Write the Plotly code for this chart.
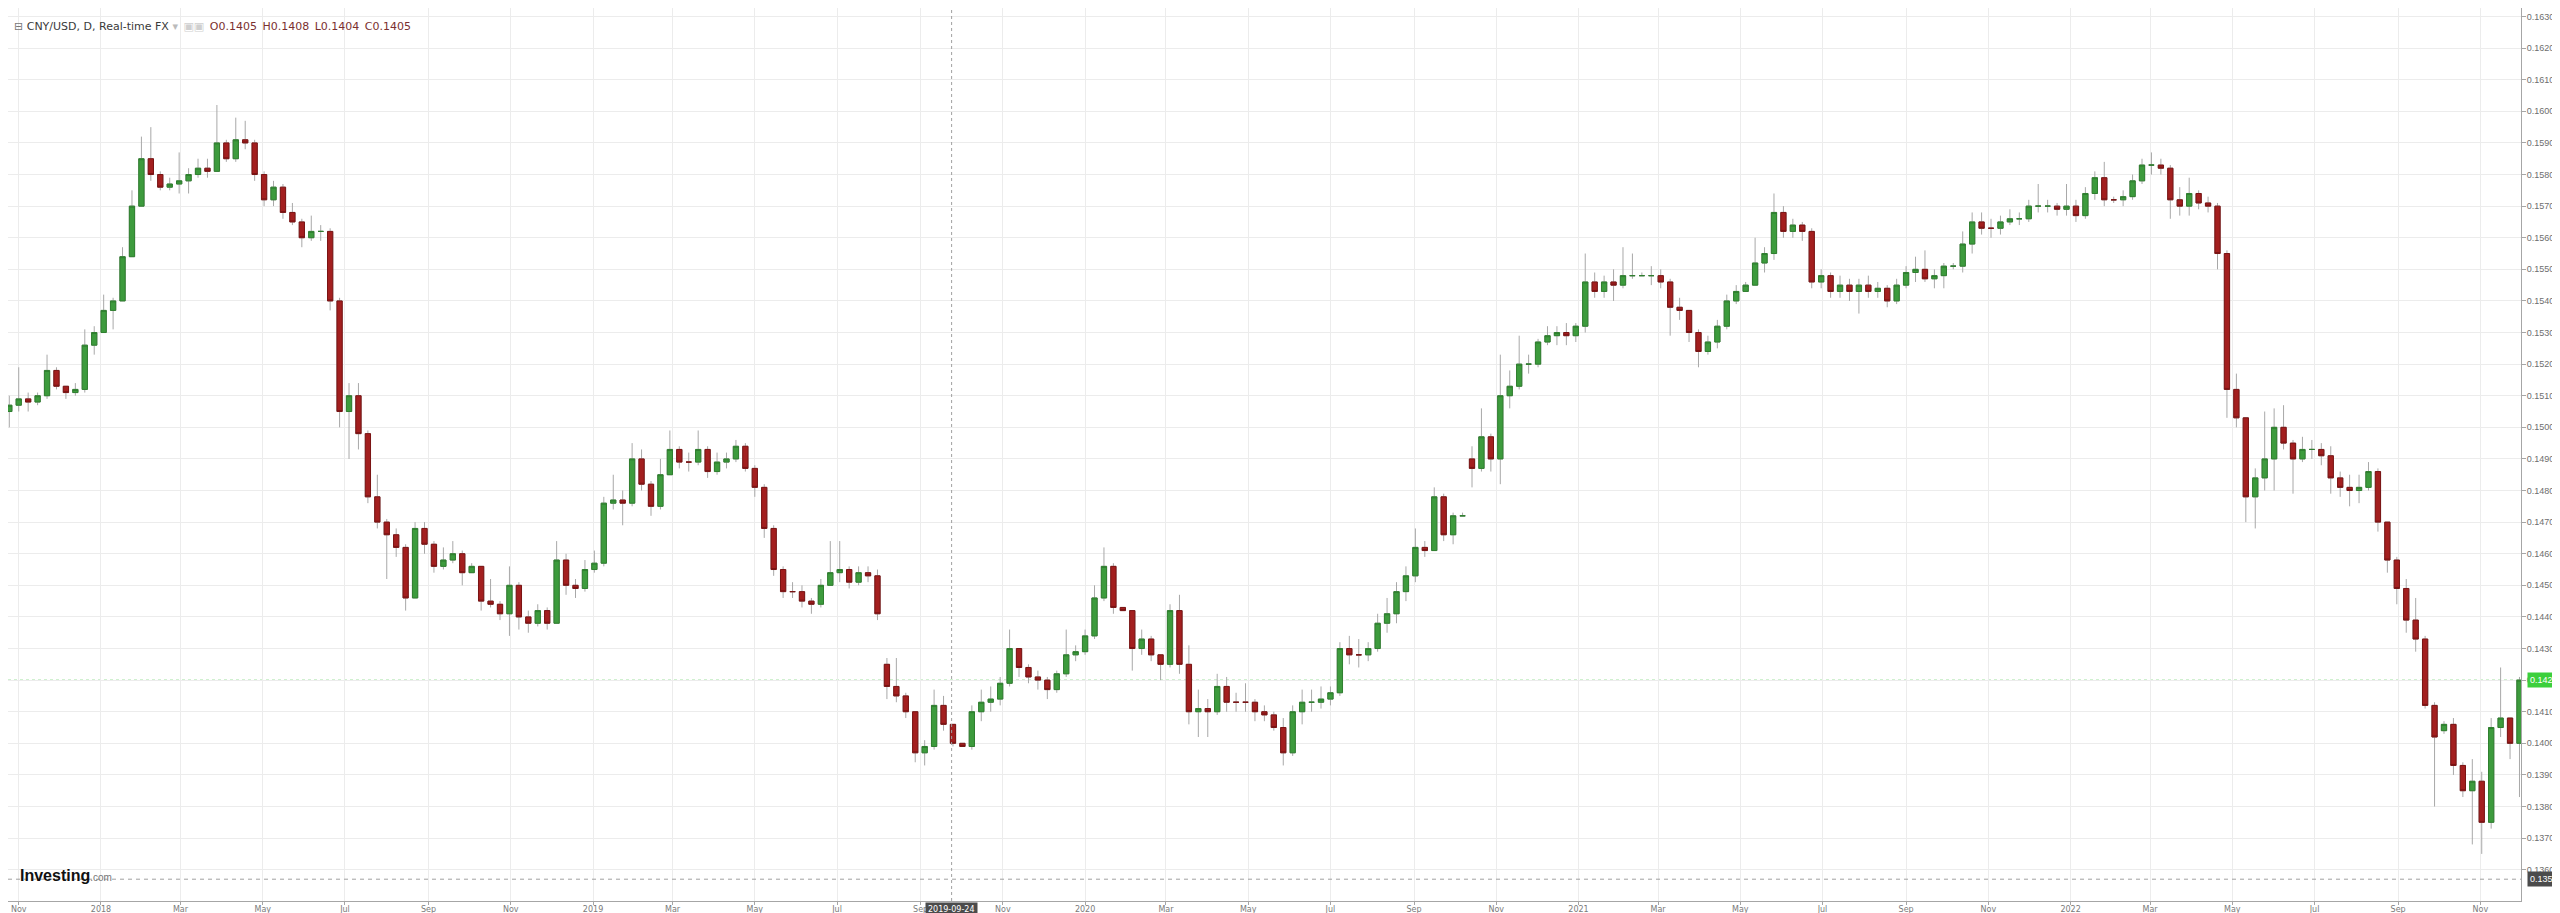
import pandas as pd
import plotly.graph_objects as go

# ---------------- data (weekly bars, in pips = 0.0001) ----------------
PIP = 0.0001
FIRST_WEEK = "2017-10-25"   # centre (Wednesday) of the first weekly bar

opens = [
    1505, 1507, 1509, 1508, 1510, 1518, 1513, 1511, 1512, 1526,
    1530, 1537, 1540, 1554, 1570, 1585, 1580, 1576, 1577, 1578,
    1580, 1582, 1581, 1590, 1585, 1591, 1590, 1580, 1572, 1576,
    1568, 1565, 1560, 1562, 1562, 1540, 1505, 1510, 1498, 1478,
    1470, 1466, 1462, 1446, 1468, 1463, 1456, 1458, 1460, 1454,
    1456, 1445, 1444, 1441, 1450, 1440, 1438, 1442, 1438, 1458,
    1450, 1449, 1455, 1457, 1476, 1477, 1476, 1490, 1482, 1475,
    1485, 1493, 1489, 1489, 1493, 1486, 1489, 1490, 1494, 1487,
    1481, 1468, 1455, 1448, 1448, 1445, 1444, 1450, 1454, 1455,
    1451, 1454, 1453, 1425, 1418, 1415, 1410, 1397, 1399, 1412,
    1406, 1400, 1399, 1410, 1413, 1414, 1419, 1430, 1424, 1421,
    1420, 1417, 1422, 1428, 1429, 1434, 1446, 1456, 1443, 1442,
    1430, 1433, 1428, 1425, 1442, 1425, 1410, 1411, 1410, 1418,
    1413, 1413, 1413, 1410, 1409, 1405, 1397, 1410, 1413, 1413,
    1414, 1416, 1430, 1428, 1428, 1430, 1438, 1441, 1448, 1453,
    1462, 1461, 1478, 1466, 1472, 1490, 1487, 1497, 1490, 1510,
    1513, 1520, 1520, 1527, 1529, 1530, 1529, 1532, 1546, 1543,
    1546, 1545, 1548, 1548, 1548, 1548, 1546, 1538, 1537, 1530,
    1524, 1527, 1532, 1540, 1543, 1545, 1552, 1555, 1568, 1562,
    1564, 1562, 1546, 1548, 1543, 1545, 1543, 1545, 1543, 1544,
    1540, 1545, 1549, 1550, 1547, 1548, 1551, 1551, 1558, 1565,
    1563, 1563, 1565, 1566, 1566, 1570, 1570, 1570, 1569, 1570,
    1567, 1574, 1579, 1572, 1572, 1573, 1578, 1583, 1583, 1582,
    1572, 1570, 1574, 1571, 1570, 1555, 1512, 1503, 1478, 1484,
    1490, 1500, 1495, 1490, 1493, 1493, 1491, 1484, 1481, 1480,
    1481, 1486, 1470, 1458, 1449, 1439, 1433, 1412, 1404, 1406,
    1393, 1385, 1388, 1375, 1405, 1408, 1400,
]

highs = [
    1510, 1519, 1511, 1511, 1523, 1519, 1513, 1514, 1531, 1532,
    1542, 1541, 1557, 1575, 1592, 1595, 1581, 1579, 1587, 1582,
    1585, 1585, 1602, 1591, 1598, 1597, 1591, 1581, 1578, 1577,
    1571, 1566, 1567, 1564, 1563, 1541, 1514, 1514, 1499, 1485,
    1471, 1468, 1463, 1470, 1470, 1464, 1462, 1464, 1461, 1457,
    1456, 1452, 1445, 1456, 1451, 1442, 1444, 1443, 1464, 1460,
    1452, 1458, 1461, 1478, 1485, 1480, 1495, 1493, 1483, 1490,
    1499, 1494, 1492, 1499, 1494, 1492, 1492, 1496, 1495, 1488,
    1482, 1469, 1456, 1451, 1450, 1446, 1452, 1464, 1464, 1456,
    1456, 1456, 1455, 1427, 1427, 1416, 1402, 1401, 1417, 1415,
    1406, 1400, 1412, 1417, 1418, 1421, 1436, 1430, 1425, 1423,
    1421, 1423, 1436, 1431, 1436, 1450, 1462, 1457, 1443, 1442,
    1436, 1434, 1428, 1444, 1447, 1431, 1417, 1414, 1422, 1421,
    1416, 1419, 1414, 1412, 1410, 1408, 1412, 1417, 1417, 1418,
    1418, 1432, 1434, 1433, 1432, 1441, 1446, 1451, 1456, 1468,
    1464, 1481, 1479, 1473, 1473, 1494, 1506, 1498, 1523, 1518,
    1529, 1523, 1528, 1532, 1532, 1533, 1533, 1555, 1549, 1548,
    1550, 1557, 1555, 1549, 1551, 1550, 1547, 1541, 1535, 1531,
    1529, 1534, 1542, 1545, 1546, 1560, 1557, 1574, 1570, 1566,
    1565, 1563, 1550, 1549, 1548, 1547, 1547, 1548, 1546, 1545,
    1547, 1551, 1554, 1556, 1550, 1552, 1552, 1562, 1568, 1568,
    1566, 1567, 1569, 1568, 1572, 1577, 1572, 1571, 1577, 1572,
    1576, 1581, 1584, 1573, 1575, 1580, 1585, 1587, 1585, 1583,
    1576, 1579, 1575, 1573, 1571, 1556, 1517, 1503, 1487, 1505,
    1506, 1507, 1496, 1497, 1496, 1495, 1494, 1486, 1485, 1485,
    1489, 1487, 1470, 1459, 1452, 1446, 1434, 1413, 1407, 1408,
    1394, 1395, 1391, 1408, 1424, 1406, 1421,
]

lows = [
    1500, 1505, 1505, 1507, 1509, 1512, 1509, 1510, 1511, 1523,
    1530, 1531, 1540, 1554, 1570, 1578, 1575, 1575, 1574, 1574,
    1579, 1579, 1581, 1584, 1584, 1588, 1578, 1570, 1570, 1566,
    1564, 1557, 1559, 1559, 1537, 1500, 1490, 1493, 1476, 1468,
    1452, 1459, 1442, 1446, 1460, 1454, 1455, 1457, 1450, 1455,
    1442, 1443, 1439, 1434, 1436, 1435, 1437, 1436, 1438, 1447,
    1446, 1448, 1454, 1456, 1474, 1469, 1475, 1480, 1472, 1474,
    1485, 1487, 1486, 1488, 1484, 1485, 1487, 1489, 1486, 1478,
    1465, 1453, 1446, 1446, 1443, 1441, 1443, 1450, 1451, 1449,
    1450, 1451, 1439, 1414, 1413, 1408, 1394, 1393, 1398, 1404,
    1399, 1399, 1398, 1407, 1410, 1412, 1418, 1421, 1419, 1417,
    1414, 1416, 1421, 1426, 1428, 1433, 1445, 1441, 1442, 1423,
    1428, 1426, 1420, 1424, 1422, 1406, 1402, 1402, 1409, 1410,
    1410, 1410, 1407, 1407, 1404, 1393, 1396, 1406, 1410, 1411,
    1412, 1415, 1425, 1424, 1426, 1429, 1435, 1438, 1445, 1451,
    1459, 1461, 1464, 1463, 1472, 1481, 1486, 1486, 1482, 1506,
    1512, 1517, 1519, 1526, 1526, 1526, 1527, 1530, 1541, 1541,
    1540, 1544, 1547, 1548, 1545, 1544, 1529, 1534, 1527, 1519,
    1523, 1525, 1531, 1539, 1544, 1545, 1549, 1553, 1560, 1560,
    1559, 1544, 1544, 1541, 1541, 1540, 1536, 1541, 1541, 1538,
    1539, 1544, 1546, 1546, 1544, 1544, 1550, 1549, 1555, 1561,
    1560, 1561, 1564, 1564, 1565, 1568, 1568, 1567, 1567, 1565,
    1566, 1572, 1570, 1571, 1570, 1572, 1577, 1580, 1580, 1566,
    1567, 1567, 1569, 1568, 1550, 1503, 1500, 1470, 1468, 1480,
    1480, 1493, 1479, 1489, 1490, 1488, 1479, 1478, 1475, 1476,
    1480, 1467, 1454, 1444, 1435, 1429, 1411, 1380, 1403, 1390,
    1383, 1368, 1365, 1373, 1402, 1395, 1383,
]

closes = [
    1507, 1509, 1508, 1510, 1518, 1513, 1511, 1512, 1526, 1530,
    1537, 1540, 1554, 1570, 1585, 1580, 1576, 1577, 1578, 1580,
    1582, 1581, 1590, 1585, 1591, 1590, 1580, 1572, 1576, 1568,
    1565, 1560, 1562, 1562, 1540, 1505, 1510, 1498, 1478, 1470,
    1466, 1462, 1446, 1468, 1463, 1456, 1458, 1460, 1454, 1456,
    1445, 1444, 1441, 1450, 1440, 1438, 1442, 1438, 1458, 1450,
    1449, 1455, 1457, 1476, 1477, 1476, 1490, 1482, 1475, 1485,
    1493, 1489, 1489, 1493, 1486, 1489, 1490, 1494, 1487, 1481,
    1468, 1455, 1448, 1448, 1445, 1444, 1450, 1454, 1455, 1451,
    1454, 1453, 1441, 1418, 1415, 1410, 1397, 1399, 1412, 1406,
    1400, 1399, 1410, 1413, 1414, 1419, 1430, 1424, 1421, 1420,
    1417, 1422, 1428, 1429, 1434, 1446, 1456, 1443, 1442, 1430,
    1433, 1428, 1425, 1442, 1425, 1410, 1411, 1410, 1418, 1413,
    1413, 1413, 1410, 1409, 1405, 1397, 1410, 1413, 1413, 1414,
    1416, 1430, 1428, 1428, 1430, 1438, 1441, 1448, 1453, 1462,
    1461, 1478, 1466, 1472, 1472, 1487, 1497, 1490, 1510, 1513,
    1520, 1520, 1527, 1529, 1530, 1529, 1532, 1546, 1543, 1546,
    1545, 1548, 1548, 1548, 1548, 1546, 1538, 1537, 1530, 1524,
    1527, 1532, 1540, 1543, 1545, 1552, 1555, 1568, 1562, 1564,
    1562, 1546, 1548, 1543, 1545, 1543, 1545, 1543, 1544, 1540,
    1545, 1549, 1550, 1547, 1548, 1551, 1551, 1558, 1565, 1563,
    1563, 1565, 1566, 1566, 1570, 1570, 1570, 1569, 1570, 1567,
    1574, 1579, 1572, 1572, 1573, 1578, 1583, 1583, 1582, 1572,
    1570, 1574, 1571, 1570, 1555, 1512, 1503, 1478, 1484, 1490,
    1500, 1495, 1490, 1493, 1493, 1491, 1484, 1481, 1480, 1481,
    1486, 1470, 1458, 1449, 1439, 1433, 1412, 1402, 1406, 1393,
    1385, 1388, 1375, 1405, 1408, 1400, 1420,
]

tick_dates = [
    "2017-11-01", "2018-01-01", "2018-03-01", "2018-05-01", "2018-07-01", "2018-09-01",
    "2018-11-01", "2019-01-01", "2019-03-01", "2019-05-01", "2019-07-01", "2019-09-01",
    "2019-11-01", "2020-01-01", "2020-03-01", "2020-05-01", "2020-07-01", "2020-09-01",
    "2020-11-01", "2021-01-01", "2021-03-01", "2021-05-01", "2021-07-01", "2021-09-01",
    "2021-11-01", "2022-01-01", "2022-03-01", "2022-05-01", "2022-07-01", "2022-09-01",
    "2022-11-01",
]
tick_labels = [
    "Nov", "2018", "Mar", "May", "Jul", "Sep",
    "Nov", "2019", "Mar", "May", "Jul", "Sep",
    "Nov", "2020", "Mar", "May", "Jul", "Sep",
    "Nov", "2021", "Mar", "May", "Jul", "Sep",
    "Nov", "2022", "Mar", "May", "Jul", "Sep",
    "Nov",
]

last_price = 0.1420
cross_price = 0.1357
cross_date = "2019-09-24"
header_name = "CNY/USD, D, Real-time FX"
header_ohlc = ["O0.1405", "H0.1408", "L0.1404", "C0.1405"]

# ---------------- build ----------------
dates = pd.date_range(FIRST_WEEK, periods=len(closes), freq="7D")
o = [v * PIP for v in opens]
c = [v * PIP for v in closes]
h = [max(a, b, d) * PIP for a, b, d in zip(highs, opens, closes)]
l = [min(a, b, d) * PIP for a, b, d in zip(lows, opens, closes)]
body_hi = [max(a, b) for a, b in zip(o, c)]
body_lo = [min(a, b) for a, b in zip(o, c)]

UP_FILL, UP_LINE = "#3d9b3d", "#2f7f2f"
DN_FILL, DN_LINE = "#a31f1f", "#7a1414"
WICK = "#a8a8a8"

fig = go.Figure()
# wicks (grey)
fig.add_trace(go.Candlestick(
    x=dates, open=o, high=h, low=l, close=c,
    increasing=dict(line=dict(color=WICK, width=1), fillcolor=WICK),
    decreasing=dict(line=dict(color=WICK, width=1), fillcolor=WICK),
    hoverinfo="skip", showlegend=False,
))
# bodies (coloured)
fig.add_trace(go.Candlestick(
    x=dates, open=o, high=body_hi, low=body_lo, close=c,
    increasing=dict(line=dict(color=UP_LINE, width=1), fillcolor=UP_FILL),
    decreasing=dict(line=dict(color=DN_LINE, width=1), fillcolor=DN_FILL),
    showlegend=False,
))

AX_FONT = "DejaVu Sans"
NUM_FONT = "Liberation Sans"
fig.update_layout(
    width=2560, height=913,
    margin=dict(l=0, r=47, t=0, b=20),
    paper_bgcolor="white", plot_bgcolor="white",
    showlegend=False,
    boxgap=0.2,
    xaxis=dict(
        type="date",
        range=["2017-10-24 01:00", "2022-12-01 03:00"],
        tickvals=tick_dates, ticktext=tick_labels,
        showgrid=True, gridcolor="#ececec", gridwidth=1,
        showline=True, linecolor="#a6a6a6", linewidth=1,
        ticks="outside", ticklen=3, tickcolor="#a6a6a6",
        ticklabelstandoff=-3,
        tickfont=dict(family=AX_FONT, size=8, color="#7a7a7a"),
        rangeslider=dict(visible=False), zeroline=False, fixedrange=True,
    ),
    yaxis=dict(
        side="right",
        range=[0.13501, 0.16327],
        tick0=0.136, dtick=0.001, tickformat=".4f",
        showgrid=True, gridcolor="#ececec", gridwidth=1,
        showline=True, linecolor="#a6a6a6", linewidth=1,
        ticks="outside", ticklen=4, tickcolor="#a6a6a6",
        ticklabelstandoff=-1,
        tickfont=dict(family=NUM_FONT, size=9, color="#6e6e6e"),
        zeroline=False, fixedrange=True,
    ),
)

# last-price line and crosshair
fig.add_shape(type="line", xref="paper", x0=0, x1=1, yref="y", y0=last_price, y1=last_price,
              line=dict(color="#86d886", width=1, dash="dot"), layer="below")
fig.add_shape(type="line", xref="paper", x0=0, x1=1, yref="y", y0=cross_price, y1=cross_price,
              line=dict(color="#a0a0a0", width=1, dash="4px,4px"))
fig.add_shape(type="line", xref="x", x0=cross_date, x1=cross_date, yref="paper", y0=0, y1=1,
              line=dict(color="#a0a0a0", width=1, dash="3px,3px"))

# axis labels for the lines
fig.add_annotation(xref="paper", x=1, yref="y", y=last_price, xanchor="left", xshift=6,
                   text="0.1420", showarrow=False, bgcolor="#3ccf3c", borderpad=2,
                   font=dict(family=NUM_FONT, size=9, color="white"))
fig.add_annotation(xref="paper", x=1, yref="y", y=cross_price, xanchor="left", xshift=6,
                   text="0.1357", showarrow=False, bgcolor="#4b4b4b", borderpad=2,
                   font=dict(family=NUM_FONT, size=9, color="white"))
fig.add_annotation(xref="x", x=cross_date, yref="paper", y=0, yanchor="top", yshift=-1,
                   text=cross_date, showarrow=False, bgcolor="#4b4b4b", borderpad=2,
                   font=dict(family=AX_FONT, size=8, color="white"))

# header
sp = "\u2002"
header = ('<span style="color:#777">⊟</span> ' + header_name +
          ' <span style="color:#bbb">▾</span>' + sp +
          '<span style="color:#cfcfcf">▣▣</span>' + sp +
          '<span style="color:#7b3030">' + sp.join(header_ohlc) + '</span>')
fig.add_annotation(xref="paper", x=0, xanchor="left", xshift=4,
                   yref="paper", y=1, yanchor="middle", yshift=-18,
                   text=header, showarrow=False, align="left",
                   font=dict(family=AX_FONT, size=11, color="#3a3a3a"))

# logo
fig.add_annotation(xref="paper", x=0, xanchor="left", xshift=10,
                   yref="paper", y=0, yanchor="middle", yshift=26,
                   text='<b>Investing</b><span style="font-size:10px;color:#777">.com</span>',
                   showarrow=False,
                   font=dict(family="Liberation Sans Narrow, Liberation Sans, Arial", size=16, color="#111"))

fig.write_html("out.html")
